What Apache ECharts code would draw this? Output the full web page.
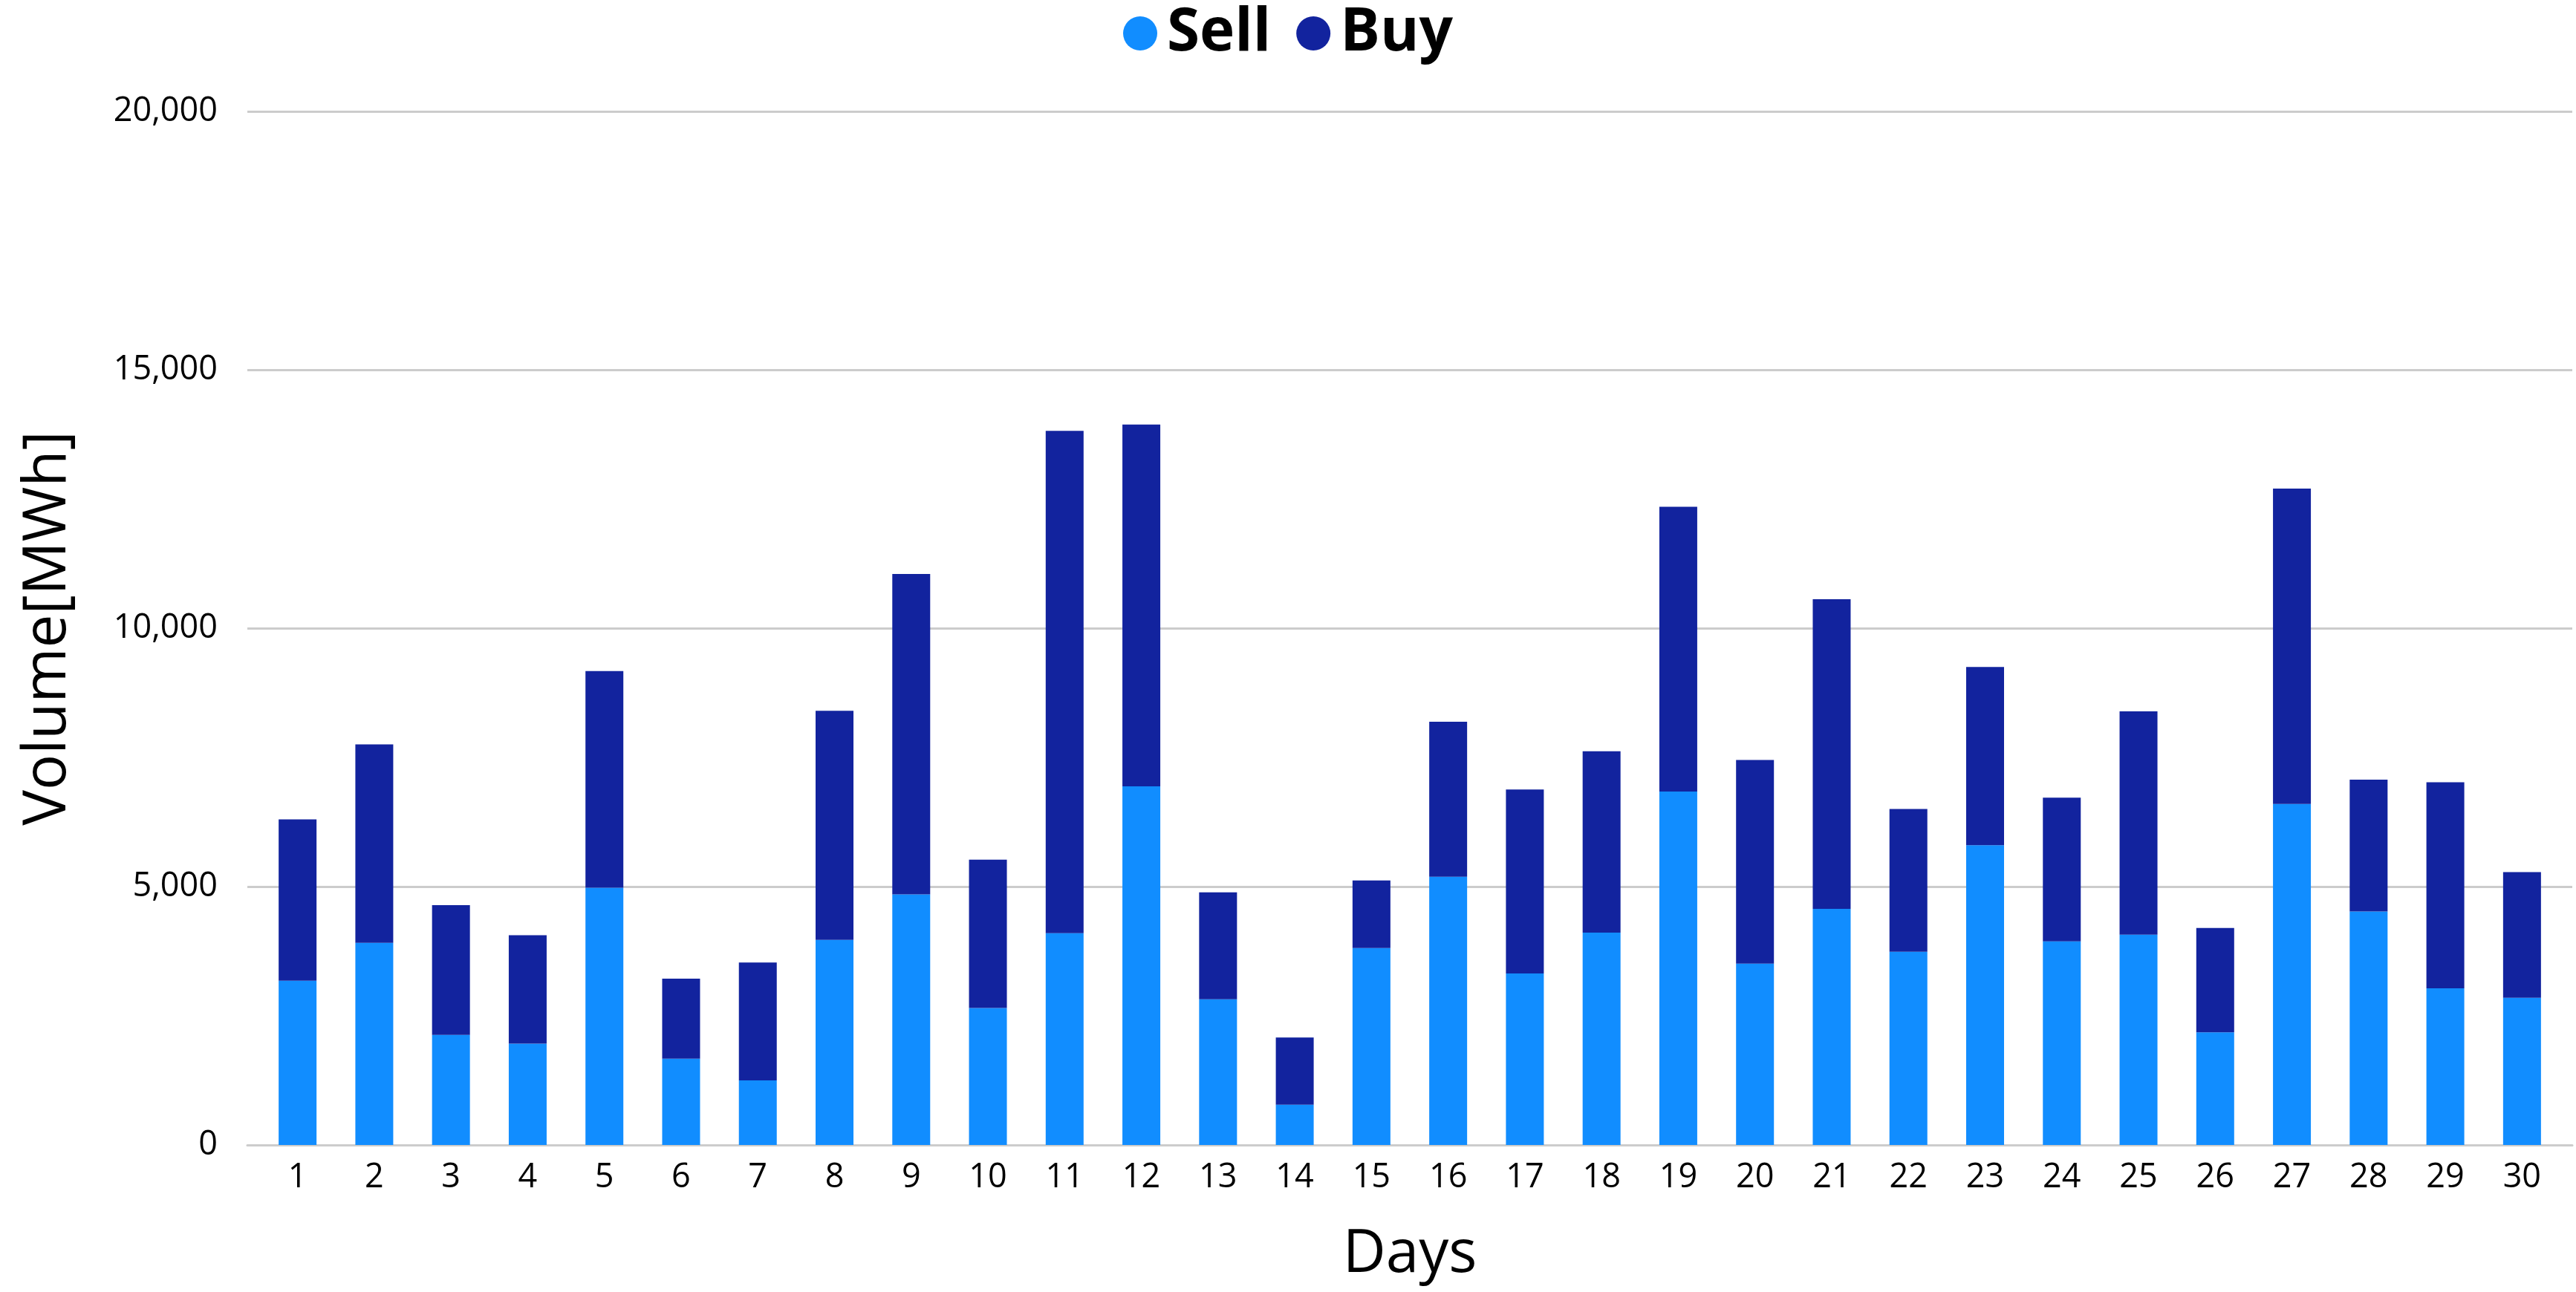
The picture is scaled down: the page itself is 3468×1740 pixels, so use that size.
<!DOCTYPE html>
<html>
<head>
<meta charset="utf-8">
<title>Daily traded volume</title>
<script src="https://cdn.jsdelivr.net/npm/echarts@6/dist/echarts.min.js"></script>
<style>
  html, body { margin: 0; padding: 0; background: #ffffff; }
  #chart { width: 3468px; height: 1740px; }
</style>
</head>
<body>
<div id="chart"></div>
<script>
// Day numbers on the category axis
const days = ['1','2','3','4','5','6','7','8','9','10','11','12','13','14','15',
              '16','17','18','19','20','21','22','23','24','25','26','27','28','29','30'];

// Daily volumes in MWh (stacked: Sell at the bottom, Buy on top)
const sellVolume = [3180, 3910, 2130, 1960, 4980, 1670, 1250, 3970, 4850, 2650,
                    4100, 6940, 2820, 780, 3810, 5190, 3320, 4110, 6840, 3510,
                    4570, 3740, 5800, 3940, 4070, 2180, 6600, 4520, 3030, 2850];
const buyVolume  = [3120, 3840, 2510, 2100, 4190, 1550, 2280, 4430, 6200, 2870,
                    9720, 7000, 2070, 1300, 1310, 3000, 3560, 3510, 5510, 3940,
                    5990, 2760, 3450, 2780, 4320, 2020, 6100, 2550, 3990, 2430];

// Value axis range
const yMin = 0;
const yMax = 20000;
const yStep = 5000;

const FONT = '"Open Sans", "Noto Sans", sans-serif';
const SELL_COLOR = '#118DFF';
const BUY_COLOR = '#12239E';
const GRID_COLOR = '#CCCCCC';

const chart = echarts.init(document.getElementById('chart'), null, { renderer: 'canvas' });

chart.setOption({
  backgroundColor: '#ffffff',
  animation: false,
  legend: {
    data: ['Sell', 'Buy'],
    left: 'center',
    top: 0,
    icon: 'circle',
    itemWidth: 46,
    itemHeight: 46,
    itemGap: 34,
    textStyle: {
      fontFamily: FONT,
      fontWeight: 'bold',
      fontSize: 80,
      color: '#000000',
      padding: [0, 0, 0, 8]
    }
  },
  grid: [
    // full-width frame for the horizontal gridlines and value labels
    { left: 333, right: 5, top: 150, bottom: 198 },
    // inner frame that holds the bars
    { left: 349, right: 21, top: 150, bottom: 198 }
  ],
  xAxis: [
    {
      type: 'category',
      gridIndex: 0,
      data: days,
      axisLine: { show: true, lineStyle: { color: GRID_COLOR, width: 3 } },
      axisTick: { show: false },
      axisLabel: { show: false },
      splitLine: { show: false }
    },
    {
      type: 'category',
      gridIndex: 1,
      data: days,
      axisLine: { show: false },
      axisTick: { show: false },
      axisLabel: {
        color: '#000000',
        fontFamily: FONT,
        fontSize: 45,
        margin: 22
      },
      name: 'Days',
      nameLocation: 'middle',
      nameGap: 108,
      nameTextStyle: { fontFamily: FONT, fontSize: 80, color: '#000000' }
    }
  ],
  yAxis: [
    {
      type: 'value',
      gridIndex: 0,
      min: yMin,
      max: yMax,
      interval: yStep,
      axisLine: { show: false },
      axisTick: { show: false },
      axisLabel: {
        color: '#000000',
        fontFamily: FONT,
        fontSize: 45,
        margin: 40,
        formatter: v => v.toLocaleString('en-US')
      },
      splitLine: { show: true, lineStyle: { color: GRID_COLOR, width: 3 } },
      name: 'Volume[MWh]',
      nameLocation: 'middle',
      nameGap: 228,
      nameTextStyle: { fontFamily: FONT, fontSize: 80, color: '#000000' }
    },
    {
      type: 'value',
      gridIndex: 1,
      min: yMin,
      max: yMax,
      interval: yStep,
      show: false,
      splitLine: { show: false }
    }
  ],
  series: [
    {
      name: 'Sell',
      type: 'bar',
      stack: 'volume',
      xAxisIndex: 1,
      yAxisIndex: 1,
      barWidth: 51,
      itemStyle: { color: SELL_COLOR },
      data: sellVolume
    },
    {
      name: 'Buy',
      type: 'bar',
      stack: 'volume',
      xAxisIndex: 1,
      yAxisIndex: 1,
      barWidth: 51,
      itemStyle: { color: BUY_COLOR },
      data: buyVolume
    }
  ]
});
</script>
</body>
</html>
